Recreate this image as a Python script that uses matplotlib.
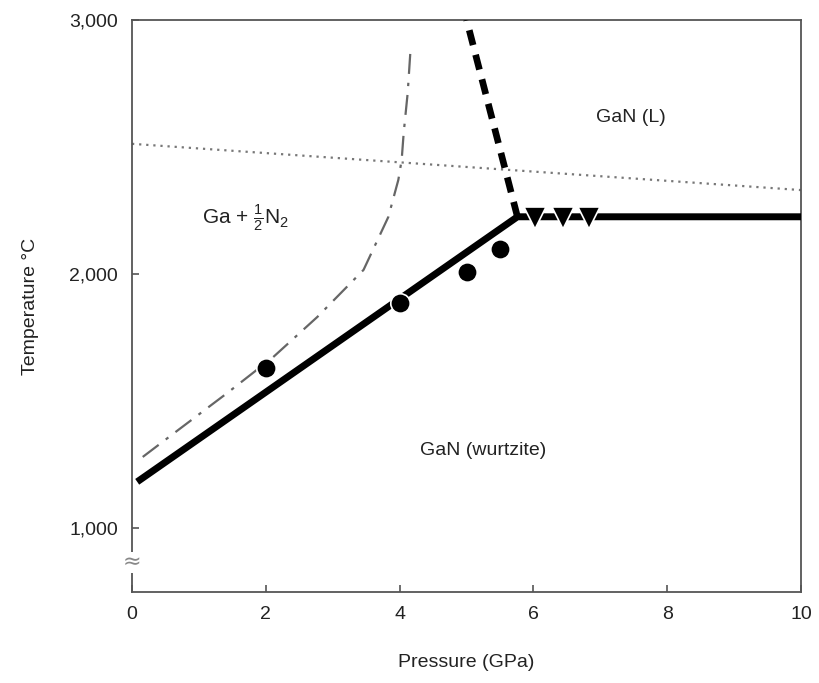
import matplotlib
matplotlib.use("Agg")
import matplotlib.pyplot as plt
from matplotlib import font_manager

fams = [f.name for f in font_manager.fontManager.ttflist]
narrow = 'Liberation Sans Narrow' if 'Liberation Sans Narrow' in fams else 'Liberation Sans'
plt.rcParams['font.family'] = [narrow, 'DejaVu Sans']
plt.rcParams['mathtext.fontset'] = 'custom'
plt.rcParams['mathtext.rm'] = narrow

# melting / solid line (wurtzite boundary)
solid_p = [0.12, 5.76, 10.0]
solid_t = [1190, 2225, 2225]
# thick dashed line (liquidus upward)
dash_p = [5.76, 5.0]
dash_t = [2225, 3000]
# dotted line
dot_p = [0.0, 10.0]
dot_t = [2512, 2330]
# dash-dot curve (decomposition)
dd_p = [0.16, 0.69, 1.42, 2.11, 2.77, 3.46, 3.83, 3.98, 4.03, 4.06, 4.12, 4.16]
dd_t = [1280, 1386, 1531, 1673, 1831, 2016, 2224, 2370, 2449, 2555, 2713, 2874]
# circle data points
circ_p = [2.0, 4.0, 5.0, 5.5]
circ_t = [1630, 1886, 2008, 2098]
# triangle data points
tri_p = [6.03, 6.44, 6.83]
tri_t = [2222, 2222, 2222]

xticks = [0, 2, 4, 6, 8, 10]
yticks = [1000, 2000, 3000]
ytick_labels = ['1,000', '2,000', '3,000']

fig = plt.figure(figsize=(8.2, 6.83), dpi=100)
ax = fig.add_axes([0.161, 0.133, 0.816, 0.838])

spine_c = '#555555'
ax.plot(dot_p, dot_t, color='#777777', lw=1.6, linestyle=(0, (1, 2.2)), zorder=2)
ax.plot(dd_p, dd_t, color='#666666', lw=1.6, linestyle=(0, (9, 4, 1.5, 4)), zorder=2)
ax.plot(dash_p, dash_t, color='black', lw=4.8, linestyle=(0, (2.3, 1.5)), zorder=3,
        solid_capstyle='butt', dash_capstyle='butt')
ax.plot(solid_p, solid_t, color='black', lw=5, zorder=3, solid_joinstyle='miter')
ax.plot(circ_p, circ_t, 'o', color='black', markersize=14, markeredgecolor='white',
        markeredgewidth=1.2, zorder=4)
ax.plot(tri_p, tri_t, 'v', color='black', markersize=16, markeredgecolor='white',
        markeredgewidth=1.2, zorder=4)

ax.text(7.46, 2614, 'GaN (L)', fontsize=14, ha='center', va='center', color='#222222')
ax.text(1.7, 2220, r'Ga + $\frac{1}{2}$N$_2$', fontsize=15, ha='center', va='center',
        color='#222222')
ax.text(5.25, 1307, 'GaN (wurtzite)', fontsize=14, ha='center', va='center', color='#222222')

ax.set_xlim(0, 10)
ax.set_ylim(748, 3000)
ax.set_xticks(xticks)
ax.set_xticklabels([str(v) for v in xticks])
ax.set_yticks(yticks)
ax.set_yticklabels(ytick_labels)
ax.tick_params(direction='in', length=5, width=1.2, colors=spine_c, labelcolor='#222222',
               labelsize=14, pad=10)
for s in ax.spines.values():
    s.set_color(spine_c)
    s.set_linewidth(1.3)

ax.set_xlabel('Pressure (GPa)', fontsize=14, labelpad=22, color='#222222')
ax.set_ylabel('Temperature °C', fontsize=14, labelpad=22, color='#222222')

# axis break symbol
ax.text(0, 866, '≈', fontsize=16, ha='center', va='center', color='#888888',
        family='DejaVu Sans', clip_on=False,
        bbox=dict(facecolor='white', edgecolor='none', pad=0.5))

fig.savefig('out.png', dpi=100)
